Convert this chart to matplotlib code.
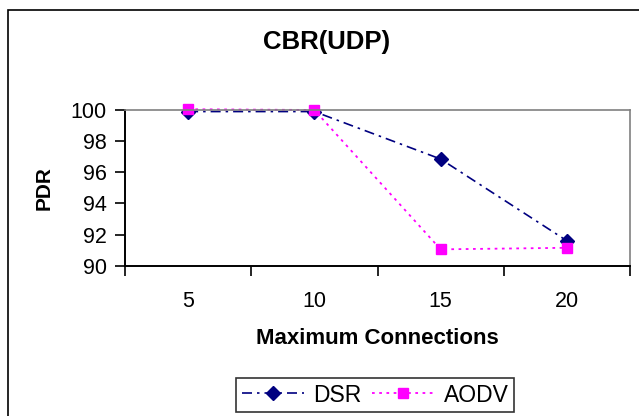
import matplotlib.pyplot as plt
from matplotlib.patches import Rectangle

plt.rcParams['font.family'] = ['Liberation Sans', 'DejaVu Sans']

# datos
conexiones = ['5', '10', '15', '20']
pdr_dsr = [99.9, 99.9, 96.85, 91.6]
pdr_aodv = [100.05, 100.0, 91.05, 91.15]
yticks = [90, 92, 94, 96, 98, 100]

fig = plt.figure(figsize=(6.39, 4.16), dpi=100)
ax = fig.add_axes([125 / 639, 1 - 265.7 / 416, 505 / 639, 155.7 / 416])

# marco exterior del grafico
fig.patches.append(Rectangle((8 / 639, -0.2), 1.2, 1 - 10 / 416 + 0.2,
                             transform=fig.transFigure, fill=False,
                             edgecolor='black', linewidth=1.2))

pos = range(len(conexiones))
ax.plot(pos, pdr_dsr, color='#000080', linestyle=(0, (6, 3, 1.5, 3)), linewidth=1.2,
        marker='D', markersize=7, label='DSR', clip_on=False)
ax.plot(pos, pdr_aodv, color='#FF00FF', linestyle=(0, (1.5, 2.5)), linewidth=1.3,
        marker='s', markersize=7, label='AODV', clip_on=False)

ax.set_xlim(-0.5, 3.5)
ax.set_ylim(90, 100)
ax.set_yticks(yticks)
ax.set_yticklabels([str(v) for v in yticks], fontsize=15.5)
ax.set_xticks([-0.5, 0.5, 1.5, 2.5, 3.5])
ax.set_xticklabels([])
ax.set_xticks(list(pos), minor=True)
ax.set_xticklabels(conexiones, minor=True, fontsize=15.5)
ax.tick_params(axis='x', which='major', length=7, width=1.2, direction='out')
ax.tick_params(axis='x', which='minor', length=0, pad=18)
ax.tick_params(axis='y', length=7, width=1.2, direction='out', pad=6)

for lado in ['top', 'right']:
    ax.spines[lado].set_color('#808080')
    ax.spines[lado].set_linewidth(1.2)
for lado in ['left', 'bottom']:
    ax.spines[lado].set_color('black')
    ax.spines[lado].set_linewidth(1.4)

ax.set_xlabel('Maximum Connections', fontsize=16, fontweight='bold', labelpad=12)
fig.text(44 / 639, 1 - 188 / 416, 'PDR', rotation=90, ha='center', va='center',
         fontsize=15, fontweight='bold')
fig.text(327 / 639, 1 - 42 / 416, 'CBR(UDP)', ha='center', va='center',
         fontsize=18.5, fontweight='bold')

leg = fig.legend(loc='center', bbox_to_anchor=(375 / 639, 1 - 395 / 416), ncol=2,
                 fontsize=16.5, frameon=True, fancybox=False, handlelength=2.7,
                 columnspacing=0.5, handletextpad=0.4, borderpad=0.25)
leg.get_frame().set_edgecolor('black')
leg.get_frame().set_linewidth(1.2)

fig.savefig('out.png', dpi=100)
